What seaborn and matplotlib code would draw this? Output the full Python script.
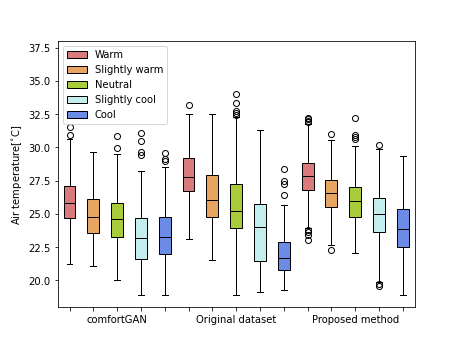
import matplotlib
matplotlib.use("Agg")
import matplotlib.pyplot as plt
import seaborn as sns
import pandas as pd

groups = ["comfortGAN", "Original dataset", "Proposed method"]
classes = ["Warm", "Slightly warm", "Neutral", "Slightly cool", "Cool"]
colors = ["#d97a7c", "#e8a462", "#a8cc3a", "#c4eeee", "#6b8be6"]

# box statistics per box, ordered group by group, class by class
whislo = [21.21, 21.08, 20.00, 18.90, 18.90,
          23.09, 21.51, 18.90, 19.10, 19.30,
          23.95, 22.64, 22.09, 19.85, 18.90]
q1 = [24.69, 23.56, 23.26, 21.62, 21.96,
      26.75, 24.79, 23.91, 21.48, 20.78,
      26.82, 25.49, 24.79, 23.64, 22.54]
med = [25.85, 24.79, 24.61, 23.21, 23.24,
       27.80, 26.02, 25.21, 24.04, 21.71,
       27.85, 26.60, 25.94, 24.97, 23.84]
q3 = [27.09, 26.09, 25.82, 24.70, 24.76,
      29.23, 27.92, 27.27, 25.77, 22.88,
      28.82, 27.52, 27.02, 26.19, 25.34]
whishi = [30.65, 29.65, 29.48, 28.25, 28.52,
          32.49, 32.49, 32.25, 31.28, 25.70,
          31.78, 30.53, 30.10, 29.91, 29.35]
fliers = [[30.90, 31.55], [], [29.93, 30.83], [29.42, 29.68, 30.50, 31.08], [29.00, 29.10, 29.55],
          [33.18], [], [32.45, 32.60, 32.75, 33.35, 33.98], [], [26.45, 27.28, 27.45, 28.40],
          [23.05, 23.40, 23.65, 23.75, 31.90, 32.00, 32.10, 32.18], [22.26, 31.03],
          [30.61, 30.78, 30.96, 32.24], [19.60, 19.72, 30.15], []]


def expand(lo, a, m, b, hi, fl):
    lows = sorted([f for f in fl if f < a]) + [lo]
    highs = [hi] + sorted([f for f in fl if f > b])
    k = max(len(lows), len(highs))
    lows = lows + [lo] * (k - len(lows))
    highs = [hi] * (k - len(highs)) + highs
    return lows + [a] * k + [m] * k + [b] + highs


rows = []
for i in range(15):
    g = groups[i // 5]
    c = classes[i % 5]
    for v in expand(whislo[i], q1[i], med[i], q3[i], whishi[i], fliers[i]):
        rows.append({"pos": str(i), "cls": c, "val": v})
df = pd.DataFrame(rows)

fig, ax = plt.subplots(figsize=(6.4, 4.8), dpi=72)
sns.boxplot(data=df, x="pos", y="val", hue="cls", order=[str(i) for i in range(15)],
            hue_order=classes, palette=dict(zip(classes, colors)), saturation=1,
            width=0.5, linewidth=1, linecolor="black", dodge=False,
            flierprops=dict(marker="o", markerfacecolor="none", markeredgecolor="black",
                            markersize=6, markeredgewidth=1),
            ax=ax)

ax.set_xlim(-0.5, 14.5)
ax.set_ylim(18, 38)
ax.set_xticks(range(15))
ax.set_xticklabels(["" if i % 5 != 2 else groups[i // 5] for i in range(15)])
ax.set_yticks([20.0, 22.5, 25.0, 27.5, 30.0, 32.5, 35.0, 37.5])
ax.set_yticklabels(["20.0", "22.5", "25.0", "27.5", "30.0", "32.5", "35.0", "37.5"])
ax.set_xlabel("")
ax.set_ylabel(r"Air temperature[$^{\circ}$C]")
handles, labels = ax.get_legend_handles_labels()
ax.legend(handles, labels, loc="upper left")

fig.savefig("out.png", dpi=72)
